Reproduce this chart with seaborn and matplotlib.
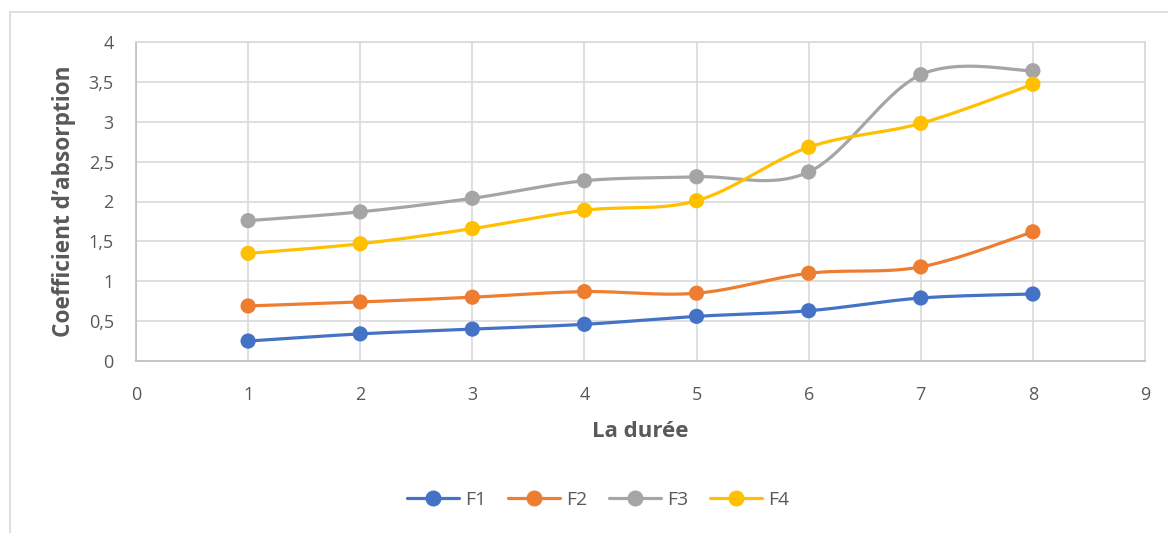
import numpy as np
import pandas as pd
import matplotlib
matplotlib.use("Agg")
import matplotlib.pyplot as plt
from matplotlib.lines import Line2D
from matplotlib.patches import Rectangle
import seaborn as sns

# Data
duree = [1, 2, 3, 4, 5, 6, 7, 8]
f1 = [0.25, 0.34, 0.40, 0.46, 0.56, 0.63, 0.79, 0.84]
f2 = [0.69, 0.74, 0.80, 0.87, 0.85, 1.10, 1.18, 1.62]
f3 = [1.76, 1.87, 2.04, 2.26, 2.31, 2.37, 3.59, 3.64]
f4 = [1.35, 1.47, 1.66, 1.89, 2.01, 2.68, 2.98, 3.47]
series_names = ["F1", "F2", "F3", "F4"]
colors = ["#4472C4", "#ED7D31", "#A5A5A5", "#FFC000"]
y_ticks = [0, 0.5, 1, 1.5, 2, 2.5, 3, 3.5, 4]
y_tick_labels = ["0", "0,5", "1", "1,5", "2", "2,5", "3", "3,5", "4"]
x_ticks = list(range(0, 10))


def smooth(xs, ys, n=40):
    """Cardinal (Catmull-Rom style) Bezier smoothing through the points."""
    P = np.column_stack([xs, ys]).astype(float)
    m = len(P)
    out = []
    t = np.linspace(0, 1, n)[:, None]
    for i in range(m - 1):
        p0 = P[i - 1] if i > 0 else P[i]
        p1, p2 = P[i], P[i + 1]
        p3 = P[i + 2] if i + 2 < m else P[i + 1]
        c1 = p1 + (p2 - p0) / 6.0
        c2 = p2 - (p3 - p1) / 6.0
        seg = ((1 - t) ** 3) * p1 + 3 * ((1 - t) ** 2) * t * c1 + 3 * (1 - t) * t ** 2 * c2 + t ** 3 * p2
        out.append(seg if i == 0 else seg[1:])
    arr = np.vstack(out)
    return arr[:, 0], arr[:, 1]


rows_pts = []
rows_curve = []
for name, vals in zip(series_names, [f1, f2, f3, f4]):
    for x, y in zip(duree, vals):
        rows_pts.append({"serie": name, "x": x, "y": y})
    sx, sy = smooth(duree, vals)
    for k, (x, y) in enumerate(zip(sx, sy)):
        rows_curve.append({"serie": name, "k": k, "x": x, "y": y})
pts = pd.DataFrame(rows_pts)
curve = pd.DataFrame(rows_curve)

sns.set_style("white")
plt.rcParams["font.family"] = ["Open Sans", "DejaVu Sans"]

W, H = 1168, 533
fig = plt.figure(figsize=(W / 100, H / 100), dpi=100)
ax = fig.add_axes([136 / W, 1 - 361 / H, (1145 - 136) / W, (361 - 42) / H])

palette = dict(zip(series_names, colors))
sns.lineplot(data=curve, x="x", y="y", hue="serie", units="serie", estimator=None,
             sort=False, palette=palette, linewidth=2.3, legend=False, ax=ax, zorder=3)
sns.scatterplot(data=pts, x="x", y="y", hue="serie", palette=palette, s=120,
                edgecolor="none", legend=False, ax=ax, zorder=4)

ax.set_xlim(0, 9)
ax.set_ylim(0, 4)
ax.set_xticks(x_ticks)
ax.set_yticks(y_ticks)
ax.set_yticklabels(y_tick_labels)
ax.grid(True, color="#D9D9D9", linewidth=1.2)
ax.set_axisbelow(True)
for side, sp in ax.spines.items():
    sp.set_visible(True)
    sp.set_color("#D9D9D9")
    sp.set_linewidth(1.2)
ax.spines["bottom"].set_color("#BFBFBF")
ax.spines["left"].set_color("#BFBFBF")
ax.tick_params(axis="both", length=0, labelsize=13, colors="#595959")
ax.tick_params(axis="x", pad=18)
ax.tick_params(axis="y", pad=16)
ax.set_xlabel("La durée", fontsize=16, fontweight="bold", color="#595959", labelpad=12)
ax.set_ylabel("Coefficient d\u2019absorption", fontsize=16.3, fontweight="bold",
              color="#595959", labelpad=9)

# Chart frame
fig.patches.append(Rectangle((10 / W, -0.1), 1.2, 1 - 12 / H + 0.1, transform=fig.transFigure,
                             fill=False, edgecolor="#D9D9D9", linewidth=1.2))

handles = [Line2D([0], [0], color=c, lw=2.3, marker="o", markersize=10.5) for c in colors]
fig.legend(handles, series_names, loc="center", bbox_to_anchor=(598 / W, 1 - 500 / H),
           ncol=4, frameon=False, fontsize=14, labelcolor="#595959",
           handlelength=2.7, handletextpad=0.3, columnspacing=1.1)

fig.savefig("out.png", dpi=100)
